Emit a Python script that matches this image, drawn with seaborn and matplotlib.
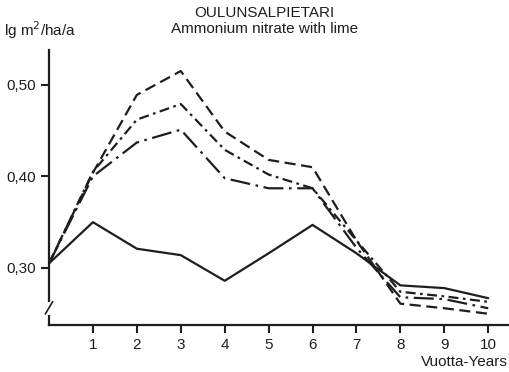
import matplotlib
matplotlib.use("Agg")
import matplotlib.pyplot as plt
import numpy as np
import pandas as pd
import seaborn as sns

years = [0, 1, 2, 3, 4, 5, 6, 7, 8, 9, 10]
solid = [0.305, 0.350, 0.321, 0.314, 0.286, 0.316, 0.347, 0.316, 0.281, 0.278, 0.267]
dashed = [0.305, 0.404, 0.489, 0.515, 0.449, 0.418, 0.410, 0.330, 0.261, 0.256, 0.250]
dashdot = [0.305, 0.405, 0.462, 0.479, 0.429, 0.402, 0.387, 0.330, 0.274, 0.269, 0.263]
longdashdot = [0.305, 0.400, 0.437, 0.451, 0.398, 0.387, 0.387, 0.322, 0.268, 0.266, 0.256]

xticks = [1, 2, 3, 4, 5, 6, 7, 8, 9, 10]
yticks = [0.30, 0.40, 0.50]
ylabels = ["0,30", "0,40", "0,50"]

df = pd.DataFrame({
    "year": years * 4,
    "value": solid + dashed + dashdot + longdashdot,
    "series": ["a"] * 11 + ["b"] * 11 + ["c"] * 11 + ["d"] * 11,
})

sns.set_style("ticks")
plt.rcParams["font.family"] = ["Liberation Sans", "DejaVu Sans"]

fig = plt.figure(figsize=(5.09, 3.72), dpi=100)
ax = fig.add_axes([0.0963, 0.1263, 0.9017, 0.7393])

dash_styles = {"a": "", "b": (5, 2.5), "c": (4.5, 2, 1.2, 2), "d": (9, 2.5, 1.2, 2.5)}
sns.lineplot(data=df, x="year", y="value", style="series", dashes=dash_styles,
             color="#1e1e1e", lw=1.6, legend=False, ax=ax)

ax.set_xlim(0, 10.45)
ax.set_ylim(0.2377, 0.538)
ax.set_xticks(xticks)
ax.set_yticks(yticks)
ax.set_yticklabels(ylabels)
ax.tick_params(labelsize=11, width=1.5, length=6, color="#1e1e1e", labelcolor="#1e1e1e")
ax.set_xlabel("")
ax.set_ylabel("")
sns.despine(ax=ax)
for s in ["left", "bottom"]:
    ax.spines[s].set_linewidth(1.6)
    ax.spines[s].set_color("#1e1e1e")

# axis break on the y axis
ax.plot([0, 0], [0.045, 0.075], transform=ax.transAxes, color="white", lw=3, clip_on=False, zorder=5)
ax.plot([-0.008, 0.008], [0.040, 0.085], transform=ax.transAxes, color="#1e1e1e", lw=1.2, clip_on=False, zorder=6)

fig.text(0.52, 0.965, "OULUNSALPIETARI", ha="center", va="center", fontsize=11, color="#1e1e1e")
fig.text(0.52, 0.922, "Ammonium nitrate with lime", ha="center", va="center", fontsize=11, color="#1e1e1e")
fig.text(0.008, 0.918, "lg m$^2$/ha/a", ha="left", va="center", fontsize=11, color="#1e1e1e")
fig.text(0.997, 0.027, "Vuotta-Years", ha="right", va="center", fontsize=11, color="#1e1e1e")

fig.savefig("out.png", dpi=100)
